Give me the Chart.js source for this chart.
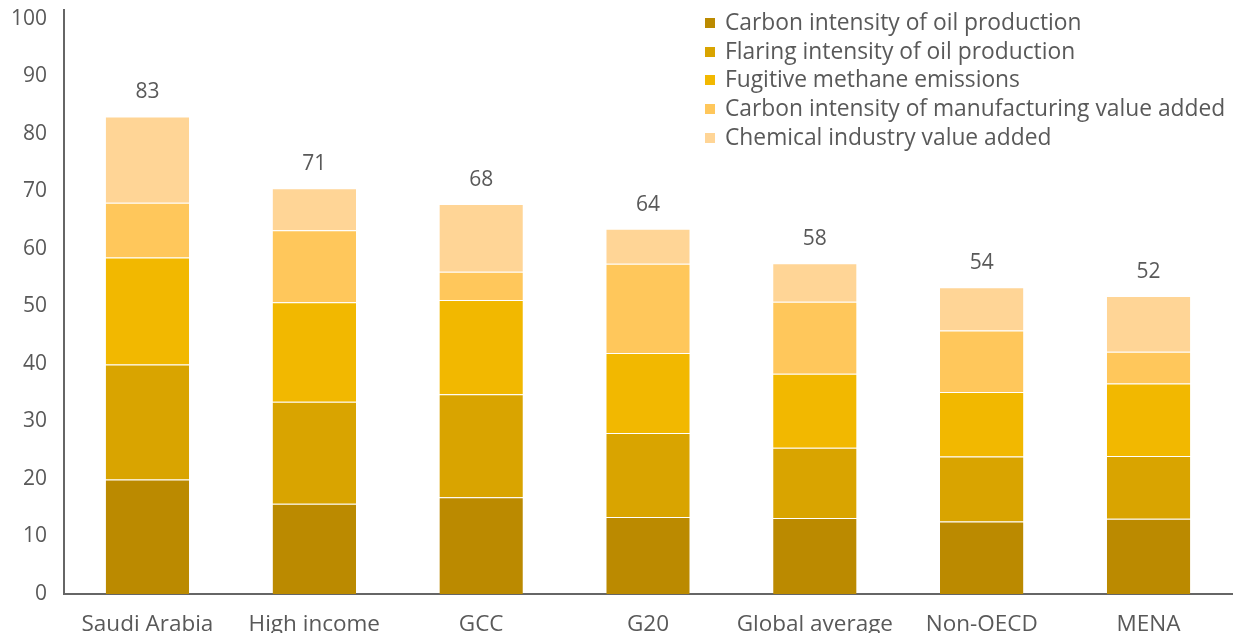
<!DOCTYPE html>
<html>
<head>
<meta charset="utf-8">
<script src="https://cdn.jsdelivr.net/npm/chart.js@4"></script>
<style>
  body { margin: 0; background: #fff; }
  #wrap { position: relative; width: 1236px; height: 633px; }
  #legend { position: absolute; left: 705px; top: 8px; font-family: "Open Sans", sans-serif; font-size: 22.8px; color: #595959; }
  #legend div { height: 28.7px; line-height: 28.7px; white-space: nowrap; }
  #legend span { display: inline-block; width: 10px; height: 10px; margin-right: 10px; vertical-align: 2px; }
</style>
</head>
<body>
<div id="wrap">
  <canvas id="mycanvas" width="1236" height="633"></canvas>
  <div id="legend"></div>
</div>
<script>
var regions = ["Saudi Arabia", "High income", "GCC", "G20", "Global average", "Non-OECD", "MENA"];
var carbonOil = [19.9, 15.7, 16.8, 13.4, 13.2, 12.6, 13.1];
var flaringOil = [20.0, 17.7, 17.9, 14.6, 12.2, 11.3, 10.9];
var fugitiveMethane = [18.6, 17.3, 16.4, 13.9, 12.9, 11.2, 12.6];
var carbonManuf = [9.5, 12.5, 4.9, 15.5, 12.5, 10.7, 5.5];
var chemicalVA = [15.0, 7.3, 11.8, 6.1, 6.7, 7.5, 9.7];
var totals = [83, 71, 68, 64, 58, 54, 52];
var yTicks = [0, 10, 20, 30, 40, 50, 60, 70, 80, 90, 100];

var seriesNames = ["Carbon intensity of oil production", "Flaring intensity of oil production",
  "Fugitive methane emissions", "Carbon intensity of manufacturing value added", "Chemical industry value added"];
var seriesColors = ["#BB8A00", "#D9A400", "#F2B800", "#FFC75B", "#FFD596"];
var seriesData = [carbonOil, flaringOil, fugitiveMethane, carbonManuf, chemicalVA];

var textColor = "#595959";
var fontFam = "'Open Sans', sans-serif";

var datasets = [];
for (var i = 0; i < seriesData.length; i++) {
  datasets.push({
    label: seriesNames[i],
    data: seriesData[i],
    backgroundColor: seriesColors[i],
    borderColor: "rgba(255,255,255,0.2)",
    borderWidth: { top: 1, left: 0, right: 0, bottom: 0 },
    borderSkipped: false,
    categoryPercentage: 1,
    barPercentage: 0.5
  });
}

// legend as html
var legendHtml = "";
for (var i = 0; i < seriesNames.length; i++) {
  legendHtml += '<div><span style="background:' + seriesColors[i] + '"></span>' + seriesNames[i] + '</div>';
}
document.getElementById("legend").innerHTML = legendHtml;

// totals above the bars
var totalsPlugin = {
  id: "totals",
  afterDatasetsDraw: function(chart) {
    var ctx = chart.ctx;
    var meta = chart.getDatasetMeta(chart.data.datasets.length - 1);
    ctx.save();
    ctx.font = "21px " + fontFam;
    ctx.fillStyle = textColor;
    ctx.textAlign = "center";
    ctx.textBaseline = "middle";
    meta.data.forEach(function(bar, idx) {
      ctx.fillText(totals[idx], bar.x, bar.y - 24);
    });
    ctx.restore();
  }
};

var ctx = document.getElementById("mycanvas");
var barGraph = new Chart(ctx, {
  type: "bar",
  data: { labels: regions, datasets: datasets },
  plugins: [totalsPlugin],
  options: {
    responsive: false,
    animation: false,
    layout: { padding: { top: 10, right: 4, left: 0, bottom: 0 } },
    plugins: { legend: { display: false }, tooltip: { enabled: false } },
    scales: {
      x: {
        stacked: true,
        grid: { display: false, drawTicks: false },
        border: { color: "#666", width: 2 },
        ticks: { color: textColor, font: { family: fontFam, size: 22.5 }, padding: 17, maxRotation: 0, autoSkip: false },
        afterFit: function(scale) { scale.height = 39; }
      },
      y: {
        stacked: true,
        min: 0,
        max: 101.5,
        grid: { display: false, drawTicks: false },
        border: { color: "#666", width: 2 },
        ticks: { color: textColor, font: { family: fontFam, size: 21 }, padding: 17, stepSize: 10 },
        afterBuildTicks: function(scale) {
          scale.ticks = yTicks.map(function(v) { return { value: v }; });
        },
        afterFit: function(scale) {
          scale.width = 64;
          scale.paddingTop = 0;
          scale.paddingBottom = 0;
        }
      }
    }
  }
});
</script>
</body>
</html>
